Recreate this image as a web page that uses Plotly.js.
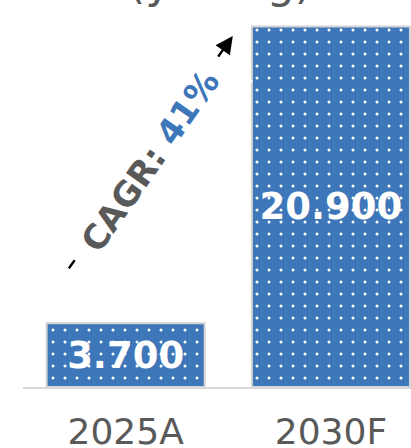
<!DOCTYPE html>
<html>
<head>
<meta charset="utf-8">
<script src="https://cdn.plot.ly/plotly-3.0.1.min.js"></script>
<style>html,body{margin:0;padding:0;background:#fff;}#chart{width:411px;height:448px;}</style>
</head>
<body>
<div id="chart"></div>
<script>
const categories = ["2025A", "2030F"];
const values = [3700, 20900];
const titleText = "(yr. Avg)";
const cagrLabel = "CAGR: ";
const cagrValue = "41%";

const blue = "#3d76b9";
const grey = "#595959";

const trace = {
  type: "bar",
  x: categories,
  y: values,
  texttemplate: "%{y:,.0f}",
  textposition: "inside",
  insidetextanchor: "middle",
  textangle: 0,
  textfont: {family: "DejaVu Sans", size: 37, color: "#ffffff", weight: "bold"},
  marker: {
    color: blue,
    line: {color: "#d4d4d4", width: 2},
    pattern: {shape: ".", fgcolor: "#ffffff", bgcolor: blue, size: 12, solidity: 0.05, fillmode: "replace"}
  },
  hoverinfo: "skip"
};

const layout = {
  width: 411,
  height: 448,
  margin: {l: 23, r: 0, t: 0, b: 61},
  paper_bgcolor: "#ffffff",
  plot_bgcolor: "#ffffff",
  separators: ",.",
  showlegend: false,
  bargap: 0.23,
  xaxis: {
    type: "category",
    range: [-0.5, 1.39],
    showline: true,
    linecolor: "#d9d9d9",
    linewidth: 2,
    showgrid: false,
    zeroline: false,
    ticks: "",
    ticklabelstandoff: 12,
    tickfont: {family: "DejaVu Sans", size: 36, color: grey}
  },
  yaxis: {
    range: [0, 22430],
    visible: false,
    showgrid: false,
    zeroline: false
  },
  annotations: [
    {
      xref: "paper", yref: "paper", x: 0.509, y: 1.044,
      xanchor: "center", yanchor: "middle",
      text: titleText, showarrow: false,
      font: {family: "DejaVu Sans", size: 44, color: grey}
    },
    {
      xref: "x", yref: "y", x: 0.522, y: 20350,
      axref: "pixel", ayref: "pixel", ax: -165, ay: 234,
      showarrow: true, arrowhead: 2, arrowsize: 1.4, arrowwidth: 2.5,
      arrowcolor: "#000000", text: ""
    },
    {
      xref: "x", yref: "y", x: 0.118, y: 13100,
      xanchor: "center", yanchor: "middle",
      textangle: -55, showarrow: false,
      bgcolor: "#ffffff", borderpad: 18,
      text: "<b>" + cagrLabel + "<span style='color:" + blue + "'>" + cagrValue + "</span></b>",
      font: {family: "DejaVu Sans", size: 34, color: grey}
    }
  ]
};

Plotly.newPlot("chart", [trace], layout, {displayModeBar: false, staticPlot: true});
</script>
</body>
</html>
